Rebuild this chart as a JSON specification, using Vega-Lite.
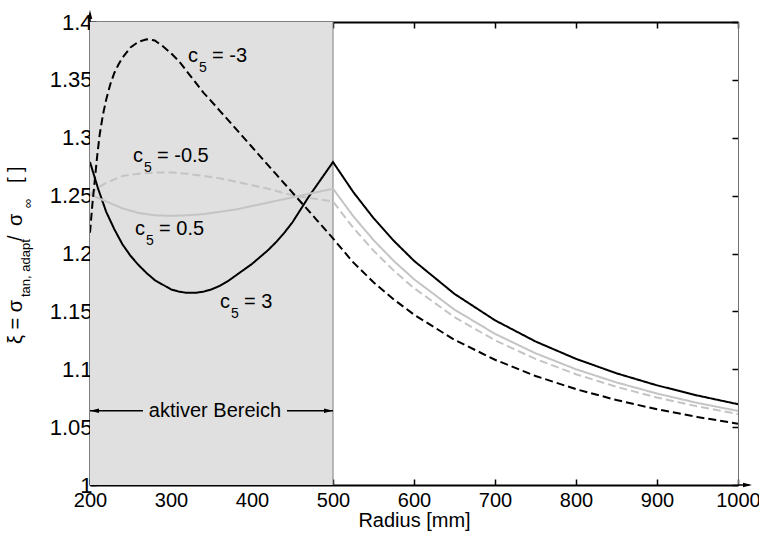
{
  "$schema": "https://vega.github.io/schema/vega-lite/v6.json",
  "width": 648,
  "height": 463,
  "autosize": "none",
  "padding": {"left": 90, "top": 22, "right": 21, "bottom": 48},
  "background": "white",
  "config": {
    "view": {"stroke": null},
    "font": "Liberation Sans",
    "axis": {"zindex": 2, "grid": false, "labelFont": "Liberation Sans", "titleFont": "Liberation Sans", "labelColor": "#000", "titleColor": "#000", "tickColor": "#000", "domainColor": "#000", "labelOverlap": false, "labelBound": false, "labelFlush": false}
  },
  "datasets": {
    "curves": [
      {"r": 200, "xi": 1.279, "c5": "3"}, {"r": 210, "xi": 1.256, "c5": "3"}, {"r": 220, "xi": 1.236, "c5": "3"}, {"r": 230, "xi": 1.221, "c5": "3"}, {"r": 240, "xi": 1.208, "c5": "3"}, {"r": 250, "xi": 1.198, "c5": "3"}, {"r": 260, "xi": 1.19, "c5": "3"}, {"r": 270, "xi": 1.183, "c5": "3"}, {"r": 280, "xi": 1.177, "c5": "3"}, {"r": 290, "xi": 1.173, "c5": "3"}, {"r": 300, "xi": 1.169, "c5": "3"}, {"r": 310, "xi": 1.167, "c5": "3"}, {"r": 320, "xi": 1.166, "c5": "3"}, {"r": 330, "xi": 1.166, "c5": "3"}, {"r": 340, "xi": 1.167, "c5": "3"}, {"r": 350, "xi": 1.169, "c5": "3"}, {"r": 360, "xi": 1.172, "c5": "3"}, {"r": 370, "xi": 1.176, "c5": "3"}, {"r": 380, "xi": 1.181, "c5": "3"}, {"r": 390, "xi": 1.186, "c5": "3"}, {"r": 400, "xi": 1.191, "c5": "3"}, {"r": 410, "xi": 1.197, "c5": "3"}, {"r": 420, "xi": 1.203, "c5": "3"}, {"r": 430, "xi": 1.21, "c5": "3"}, {"r": 440, "xi": 1.218, "c5": "3"}, {"r": 450, "xi": 1.227, "c5": "3"}, {"r": 460, "xi": 1.238, "c5": "3"}, {"r": 470, "xi": 1.249, "c5": "3"}, {"r": 480, "xi": 1.259, "c5": "3"}, {"r": 490, "xi": 1.269, "c5": "3"}, {"r": 500, "xi": 1.279, "c5": "3"}, {"r": 525, "xi": 1.2531, "c5": "3"}, {"r": 550, "xi": 1.2306, "c5": "3"}, {"r": 575, "xi": 1.211, "c5": "3"}, {"r": 600, "xi": 1.1937, "c5": "3"}, {"r": 650, "xi": 1.1651, "c5": "3"}, {"r": 700, "xi": 1.1423, "c5": "3"}, {"r": 750, "xi": 1.124, "c5": "3"}, {"r": 800, "xi": 1.109, "c5": "3"}, {"r": 850, "xi": 1.0965, "c5": "3"}, {"r": 900, "xi": 1.0861, "c5": "3"}, {"r": 950, "xi": 1.0773, "c5": "3"}, {"r": 1000, "xi": 1.0698, "c5": "3"},

      {"r": 200, "xi": 1.251, "c5": "0.5"}, {"r": 220, "xi": 1.245, "c5": "0.5"}, {"r": 240, "xi": 1.239, "c5": "0.5"}, {"r": 260, "xi": 1.235, "c5": "0.5"}, {"r": 280, "xi": 1.233, "c5": "0.5"}, {"r": 300, "xi": 1.2325, "c5": "0.5"}, {"r": 320, "xi": 1.233, "c5": "0.5"}, {"r": 340, "xi": 1.234, "c5": "0.5"}, {"r": 360, "xi": 1.236, "c5": "0.5"}, {"r": 380, "xi": 1.238, "c5": "0.5"}, {"r": 400, "xi": 1.241, "c5": "0.5"}, {"r": 420, "xi": 1.244, "c5": "0.5"}, {"r": 440, "xi": 1.247, "c5": "0.5"}, {"r": 460, "xi": 1.25, "c5": "0.5"}, {"r": 480, "xi": 1.253, "c5": "0.5"}, {"r": 500, "xi": 1.256, "c5": "0.5"}, {"r": 525, "xi": 1.2322, "c5": "0.5"}, {"r": 550, "xi": 1.2116, "c5": "0.5"}, {"r": 575, "xi": 1.1936, "c5": "0.5"}, {"r": 600, "xi": 1.1778, "c5": "0.5"}, {"r": 650, "xi": 1.1515, "c5": "0.5"}, {"r": 700, "xi": 1.1306, "c5": "0.5"}, {"r": 750, "xi": 1.1138, "c5": "0.5"}, {"r": 800, "xi": 1.1, "c5": "0.5"}, {"r": 850, "xi": 1.0886, "c5": "0.5"}, {"r": 900, "xi": 1.079, "c5": "0.5"}, {"r": 950, "xi": 1.0709, "c5": "0.5"}, {"r": 1000, "xi": 1.064, "c5": "0.5"},

      {"r": 200, "xi": 1.251, "c5": "-0.5"}, {"r": 210, "xi": 1.257, "c5": "-0.5"}, {"r": 220, "xi": 1.261, "c5": "-0.5"}, {"r": 230, "xi": 1.264, "c5": "-0.5"}, {"r": 240, "xi": 1.267, "c5": "-0.5"}, {"r": 260, "xi": 1.269, "c5": "-0.5"}, {"r": 280, "xi": 1.27, "c5": "-0.5"}, {"r": 300, "xi": 1.27, "c5": "-0.5"}, {"r": 320, "xi": 1.269, "c5": "-0.5"}, {"r": 340, "xi": 1.267, "c5": "-0.5"}, {"r": 360, "xi": 1.265, "c5": "-0.5"}, {"r": 380, "xi": 1.262, "c5": "-0.5"}, {"r": 400, "xi": 1.259, "c5": "-0.5"}, {"r": 420, "xi": 1.256, "c5": "-0.5"}, {"r": 440, "xi": 1.252, "c5": "-0.5"}, {"r": 460, "xi": 1.249, "c5": "-0.5"}, {"r": 480, "xi": 1.247, "c5": "-0.5"}, {"r": 500, "xi": 1.245, "c5": "-0.5"}, {"r": 525, "xi": 1.2222, "c5": "-0.5"}, {"r": 550, "xi": 1.2025, "c5": "-0.5"}, {"r": 575, "xi": 1.1852, "c5": "-0.5"}, {"r": 600, "xi": 1.1701, "c5": "-0.5"}, {"r": 650, "xi": 1.145, "c5": "-0.5"}, {"r": 700, "xi": 1.125, "c5": "-0.5"}, {"r": 750, "xi": 1.1089, "c5": "-0.5"}, {"r": 800, "xi": 1.0957, "c5": "-0.5"}, {"r": 850, "xi": 1.0848, "c5": "-0.5"}, {"r": 900, "xi": 1.0756, "c5": "-0.5"}, {"r": 950, "xi": 1.0679, "c5": "-0.5"}, {"r": 1000, "xi": 1.0613, "c5": "-0.5"},

      {"r": 200, "xi": 1.218, "c5": "-3"}, {"r": 203, "xi": 1.243, "c5": "-3"}, {"r": 206, "xi": 1.264, "c5": "-3"}, {"r": 209, "xi": 1.285, "c5": "-3"}, {"r": 212, "xi": 1.303, "c5": "-3"}, {"r": 216, "xi": 1.32, "c5": "-3"}, {"r": 220, "xi": 1.333, "c5": "-3"}, {"r": 225, "xi": 1.346, "c5": "-3"}, {"r": 230, "xi": 1.356, "c5": "-3"}, {"r": 235, "xi": 1.363, "c5": "-3"}, {"r": 240, "xi": 1.369, "c5": "-3"}, {"r": 250, "xi": 1.378, "c5": "-3"}, {"r": 260, "xi": 1.383, "c5": "-3"}, {"r": 270, "xi": 1.385, "c5": "-3"}, {"r": 280, "xi": 1.384, "c5": "-3"}, {"r": 290, "xi": 1.379, "c5": "-3"}, {"r": 300, "xi": 1.373, "c5": "-3"}, {"r": 310, "xi": 1.366, "c5": "-3"}, {"r": 320, "xi": 1.357, "c5": "-3"}, {"r": 330, "xi": 1.348, "c5": "-3"}, {"r": 340, "xi": 1.339, "c5": "-3"}, {"r": 348, "xi": 1.333, "c5": "-3"}, {"r": 360, "xi": 1.3235, "c5": "-3"}, {"r": 375, "xi": 1.3117, "c5": "-3"}, {"r": 390, "xi": 1.2999, "c5": "-3"}, {"r": 400, "xi": 1.292, "c5": "-3"}, {"r": 415, "xi": 1.2801, "c5": "-3"}, {"r": 430, "xi": 1.2683, "c5": "-3"}, {"r": 447, "xi": 1.2549, "c5": "-3"}, {"r": 463, "xi": 1.2423, "c5": "-3"}, {"r": 480, "xi": 1.2289, "c5": "-3"}, {"r": 500, "xi": 1.213, "c5": "-3"}, {"r": 525, "xi": 1.1923, "c5": "-3"}, {"r": 550, "xi": 1.1752, "c5": "-3"}, {"r": 575, "xi": 1.1603, "c5": "-3"}, {"r": 600, "xi": 1.1472, "c5": "-3"}, {"r": 650, "xi": 1.1254, "c5": "-3"}, {"r": 700, "xi": 1.1082, "c5": "-3"}, {"r": 750, "xi": 1.0942, "c5": "-3"}, {"r": 800, "xi": 1.0828, "c5": "-3"}, {"r": 850, "xi": 1.0734, "c5": "-3"}, {"r": 900, "xi": 1.0654, "c5": "-3"}, {"r": 950, "xi": 1.0587, "c5": "-3"}, {"r": 1000, "xi": 1.053, "c5": "-3"}
    ],
    "shade": [{"x0": 200, "x1": 500}],
    "labels": [
      {"x": 321, "y": 1.3654, "c": "c", "sub": "5", "rest": "= -3"},
      {"x": 253.1, "y": 1.279, "c": "c", "sub": "5", "rest": "= -0.5"},
      {"x": 255.6, "y": 1.216, "c": "c", "sub": "5", "rest": "= 0.5"},
      {"x": 360.5, "y": 1.1529, "c": "c", "sub": "5", "rest": "= 3"}
    ],
    "ytitleMain": [
      {"x": 115.5, "y": 1.1218, "t": "ξ = σ"},
      {"x": 115.5, "y": 1.2108, "t": "/"},
      {"x": 115.5, "y": 1.2238, "t": "σ"},
      {"x": 115.5, "y": 1.2609, "t": "[ ]"}
    ],
    "ytitleSub": [
      {"x": 125.9, "y": 1.1624, "t": "tan, adapt"},
      {"x": 128.4, "y": 1.2393, "t": "∞"}
    ],
    "hrules": [
      {"x": 200, "x2": 265.4, "y": 1.0642},
      {"x": 443.2, "x2": 500, "y": 1.0642},
      {"x": 1000, "x2": 1014, "y": 1}
    ],
    "vrules": [{"x": 200, "y": 1.4, "y2": 1.405}],
    "heads": [
      {"x": 200, "y": 1.0642, "dir": "left"},
      {"x": 500, "y": 1.0642, "dir": "right"},
      {"x": 1017.3, "y": 1, "dir": "right"},
      {"x": 200, "y": 1.4104, "dir": "up"}
    ],
    "notes": [{"x": 354.3, "y": 1.0587, "t": "aktiver Bereich"}]
  },
  "resolve": {"axis": {"x": "independent", "y": "independent"}},
  "layer": [
    {
      "data": {"name": "shade"},
      "mark": {"type": "rect", "color": "#e0e0e0"},
      "encoding": {
        "x": {"field": "x0", "type": "quantitative", "scale": {"domain": [200, 1000], "nice": false, "zero": false}, "axis": null},
        "x2": {"field": "x1"}
      }
    },
    {
      "data": {"name": "shade"},
      "mark": {"type": "rule", "color": "#808080", "strokeWidth": 1},
      "encoding": {
        "x": {"field": "x1", "type": "quantitative", "axis": null}
      }
    },
    {
      "data": {"name": "curves"},
      "mark": {"type": "line", "strokeWidth": 2, "clip": true},
      "encoding": {
        "x": {"field": "r", "type": "quantitative", "scale": {"domain": [200, 1000], "nice": false, "zero": false},
          "axis": {"orient": "bottom", "values": [200, 300, 400, 500, 600, 700, 800, 900, 1000], "format": "d", "tickSize": -6, "tickWidth": 1.5, "domainWidth": 2, "labelFontSize": 20, "labelPadding": 11, "title": "Radius [mm]", "titleFontSize": 20, "titleFontWeight": "normal", "titlePadding": 0}},
        "y": {"field": "xi", "type": "quantitative", "scale": {"domain": [1, 1.4], "nice": false, "zero": false},
          "axis": {"orient": "left", "values": [1, 1.05, 1.1, 1.15, 1.2, 1.25, 1.3, 1.35, 1.4], "format": "~g", "tickSize": -6, "tickWidth": 1.5, "domainWidth": 2, "labelFontSize": 22, "labelPadding": 4, "title": null}},
        "detail": {"field": "c5"},
        "color": {"field": "c5", "type": "nominal", "scale": {"domain": ["-3", "-0.5", "0.5", "3"], "range": ["#000000", "#c4c4c4", "#c4c4c4", "#000000"]}, "legend": null},
        "strokeDash": {"field": "c5", "type": "nominal", "scale": {"domain": ["-3", "-0.5", "0.5", "3"], "range": [[8, 4], [8, 4], [1, 0], [1, 0]]}, "legend": null},
        "order": {"field": "r", "type": "quantitative"}
      }
    },
    {
      "data": {"name": "curves"},
      "mark": {"type": "point", "opacity": 0},
      "encoding": {
        "x": {"field": "r", "type": "quantitative",
          "axis": {"orient": "top", "values": [200, 300, 400, 500, 600, 700, 800, 900, 1000], "tickSize": -6, "tickWidth": 1.5, "domainWidth": 2, "labels": false, "title": null}},
        "y": {"field": "xi", "type": "quantitative",
          "axis": {"orient": "right", "values": [1, 1.05, 1.1, 1.15, 1.2, 1.25, 1.3, 1.35, 1.4], "tickSize": -6, "tickWidth": 1.5, "domainWidth": 1, "domainColor": "#707070", "labels": false, "title": null}}
      }
    },
    {
      "data": {"name": "labels"},
      "mark": {"type": "text", "align": "left", "baseline": "alphabetic", "fontSize": 20, "color": "#000"},
      "encoding": {
        "x": {"field": "x", "type": "quantitative", "axis": null},
        "y": {"field": "y", "type": "quantitative", "axis": null},
        "text": {"field": "c"}
      }
    },
    {
      "data": {"name": "labels"},
      "mark": {"type": "text", "align": "left", "baseline": "alphabetic", "fontSize": 14, "dx": 11, "dy": 10, "color": "#000"},
      "encoding": {
        "x": {"field": "x", "type": "quantitative", "axis": null},
        "y": {"field": "y", "type": "quantitative", "axis": null},
        "text": {"field": "sub"}
      }
    },
    {
      "data": {"name": "labels"},
      "mark": {"type": "text", "align": "left", "baseline": "alphabetic", "fontSize": 20, "dx": 24, "color": "#000"},
      "encoding": {
        "x": {"field": "x", "type": "quantitative", "axis": null},
        "y": {"field": "y", "type": "quantitative", "axis": null},
        "text": {"field": "rest"}
      }
    },
    {
      "data": {"name": "ytitleMain"},
      "mark": {"type": "text", "align": "left", "baseline": "alphabetic", "angle": 270, "fontSize": 20, "color": "#000"},
      "encoding": {
        "x": {"field": "x", "type": "quantitative", "axis": null},
        "y": {"field": "y", "type": "quantitative", "axis": null},
        "text": {"field": "t"}
      }
    },
    {
      "data": {"name": "ytitleSub"},
      "mark": {"type": "text", "align": "left", "baseline": "alphabetic", "angle": 270, "fontSize": 13, "color": "#000"},
      "encoding": {
        "x": {"field": "x", "type": "quantitative", "axis": null},
        "y": {"field": "y", "type": "quantitative", "axis": null},
        "text": {"field": "t"}
      }
    },
    {
      "data": {"name": "hrules"},
      "mark": {"type": "rule", "color": "#000", "strokeWidth": 1.5},
      "encoding": {
        "x": {"field": "x", "type": "quantitative", "axis": null},
        "x2": {"field": "x2"},
        "y": {"field": "y", "type": "quantitative", "axis": null}
      }
    },
    {
      "data": {"name": "vrules"},
      "mark": {"type": "rule", "color": "#000", "strokeWidth": 1.5},
      "encoding": {
        "x": {"field": "x", "type": "quantitative", "axis": null},
        "y": {"field": "y", "type": "quantitative", "axis": null},
        "y2": {"field": "y2"}
      }
    },
    {
      "data": {"name": "heads"},
      "mark": {"type": "point", "filled": true, "color": "#000", "opacity": 1, "size": 81},
      "encoding": {
        "x": {"field": "x", "type": "quantitative", "axis": null},
        "y": {"field": "y", "type": "quantitative", "axis": null},
        "shape": {"field": "dir", "type": "nominal", "scale": {"domain": ["left", "right", "up"], "range": ["M0,0L2,-0.5L2,0.5Z", "M0,0L-2,-0.5L-2,0.5Z", "M0,0L-0.5,2L0.5,2Z"]}, "legend": null}
      }
    },
    {
      "data": {"name": "notes"},
      "mark": {"type": "text", "align": "center", "baseline": "alphabetic", "fontSize": 20, "color": "#000"},
      "encoding": {
        "x": {"field": "x", "type": "quantitative", "axis": null},
        "y": {"field": "y", "type": "quantitative", "axis": null},
        "text": {"field": "t"}
      }
    }
  ]
}
